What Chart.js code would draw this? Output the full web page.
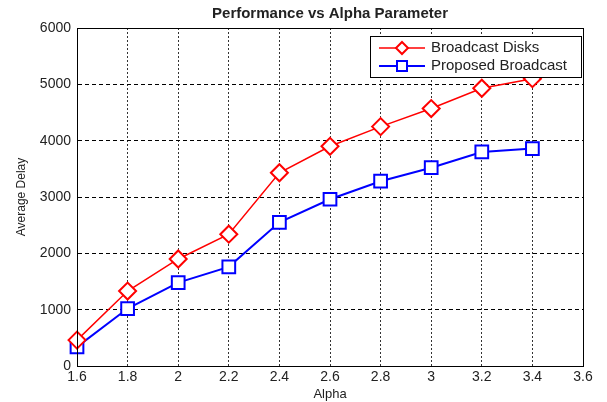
<!DOCTYPE html>
<html>
<head>
<meta charset="utf-8">
<script src="https://cdn.jsdelivr.net/npm/chart.js@4.4.1/dist/chart.umd.min.js"></script>
<style>
  html, body { margin: 0; padding: 0; background: #fff; }
  #wrap { width: 607px; height: 402px; }
</style>
</head>
<body>
<div id="wrap"><canvas id="myChart" width="607" height="402"></canvas></div>
<script>
// values
var alphaValues = [1.6, 1.8, 2.0, 2.2, 2.4, 2.6, 2.8, 3.0, 3.2, 3.4];
var broadcastDisks = [460, 1330, 1900, 2340, 3430, 3900, 4250, 4570, 4930, 5100];
var proposedBroadcast = [340, 1020, 1480, 1760, 2550, 2960, 3280, 3520, 3800, 3860];
var xTickLabels = ["1.6", "1.8", "2", "2.2", "2.4", "2.6", "2.8", "3", "3.2", "3.4", "3.6"];
var yTickLabels = ["0", "1000", "2000", "3000", "4000", "5000", "6000"];

var textColor = "#222";
var fontFam = "Arial, 'Liberation Sans', sans-serif";

function toPoints(ys) {
  return ys.map(function (y, i) { return { x: alphaValues[i], y: y }; });
}

// box around the plot + matlab style legend
var boxPlugin = {
  id: "box",
  afterLayout: function (chart) {
    // center the title over the plot area
    chart.titleBlock.left = chart.chartArea.left;
    chart.titleBlock.right = chart.chartArea.right;
  },
  afterDraw: function (chart) {
    var ctx = chart.ctx;
    var a = chart.chartArea;
    ctx.save();
    ctx.strokeStyle = "#000";
    ctx.lineWidth = 1;
    ctx.strokeRect(Math.round(a.left) + 0.5, Math.round(a.top) + 0.5,
      Math.round(a.right - a.left), Math.round(a.bottom - a.top));

    // legend
    var lx = 370, ly = 36, lw = 211, lh = 41;
    ctx.fillStyle = "#fff";
    ctx.fillRect(lx, ly, lw, lh);
    ctx.strokeRect(lx + 0.5, ly + 0.5, lw, lh);
    var rows = [48, 66];
    chart.data.datasets.forEach(function (ds, i) {
      var y = rows[i];
      ctx.strokeStyle = ds.borderColor;
      ctx.lineWidth = ds.borderWidth;
      ctx.beginPath();
      ctx.moveTo(379, y);
      ctx.lineTo(425, y);
      ctx.stroke();
      ctx.lineWidth = ds.pointBorderWidth;
      ctx.fillStyle = "#fff";
      ctx.beginPath();
      if (ds.pointStyle === "rectRot") {
        ctx.moveTo(402, y - 6); ctx.lineTo(408, y); ctx.lineTo(402, y + 6); ctx.lineTo(396, y); ctx.closePath();
      } else {
        ctx.rect(397, y - 5, 10, 10);
      }
      ctx.fill();
      ctx.stroke();
      ctx.fillStyle = textColor;
      ctx.font = "15px " + fontFam;
      ctx.textBaseline = "middle";
      ctx.textAlign = "left";
      ctx.fillText(ds.label, 431, y);
    });
    ctx.restore();
  }
};

new Chart("myChart", {
  type: "line",
  data: {
    datasets: [{
      label: "Broadcast Disks",
      data: toPoints(broadcastDisks),
      borderColor: "#ff0000",
      backgroundColor: "rgba(0,0,0,0)",
      borderWidth: 1.5,
      pointStyle: "rectRot",
      pointRadius: 8.5,
      pointBorderWidth: 2,
      pointBackgroundColor: "#fff",
      pointBorderColor: "#ff0000",
      tension: 0,
      clip: false
    }, {
      label: "Proposed Broadcast",
      data: toPoints(proposedBroadcast),
      borderColor: "#0000ff",
      backgroundColor: "rgba(0,0,0,0)",
      borderWidth: 2,
      pointStyle: "rect",
      pointRadius: 9,
      pointBorderWidth: 2,
      pointBackgroundColor: "#fff",
      pointBorderColor: "#0000ff",
      tension: 0,
      clip: false
    }]
  },
  options: {
    responsive: false,
    animation: false,
    layout: { padding: { left: 0, right: 24, top: 0, bottom: 0 } },
    plugins: {
      legend: { display: false },
      tooltip: { enabled: false },
      title: {
        display: true,
        text: "Performance vs Alpha Parameter",
        color: textColor,
        font: { family: fontFam, size: 15, weight: "bold", lineHeight: 1.2 },
        padding: { top: 5, bottom: 5 }
      }
    },
    scales: {
      x: {
        type: "linear",
        min: 1.6,
        max: 3.6,
        ticks: {
          stepSize: 0.2,
          color: textColor,
          font: { family: fontFam, size: 14 },
          padding: 3,
          maxRotation: 0,
          callback: function (v, i) { return xTickLabels[i]; }
        },
        grid: { color: "#333", lineWidth: 1, drawTicks: false },
        border: { display: true, color: "#000", dash: [2, 2] },
        title: {
          display: true,
          text: "Alpha",
          color: textColor,
          font: { family: fontFam, size: 13 },
          padding: { top: 0, bottom: 0 }
        },
        afterFit: function (s) { s.height = 36; }
      },
      y: {
        min: 0,
        max: 6000,
        ticks: {
          stepSize: 1000,
          color: textColor,
          font: { family: fontFam, size: 14 },
          padding: 6,
          callback: function (v, i) { return yTickLabels[i]; }
        },
        grid: { color: "#000", lineWidth: 1, drawTicks: false },
        border: { display: true, color: "#000", dash: [4, 3] },
        title: {
          display: true,
          text: "Average Delay",
          color: textColor,
          font: { family: fontFam, size: 12 },
          padding: { top: 14, bottom: 0 }
        },
        afterFit: function (s) { s.width = 77; }
      }
    }
  },
  plugins: [boxPlugin]
});
</script>
</body>
</html>
